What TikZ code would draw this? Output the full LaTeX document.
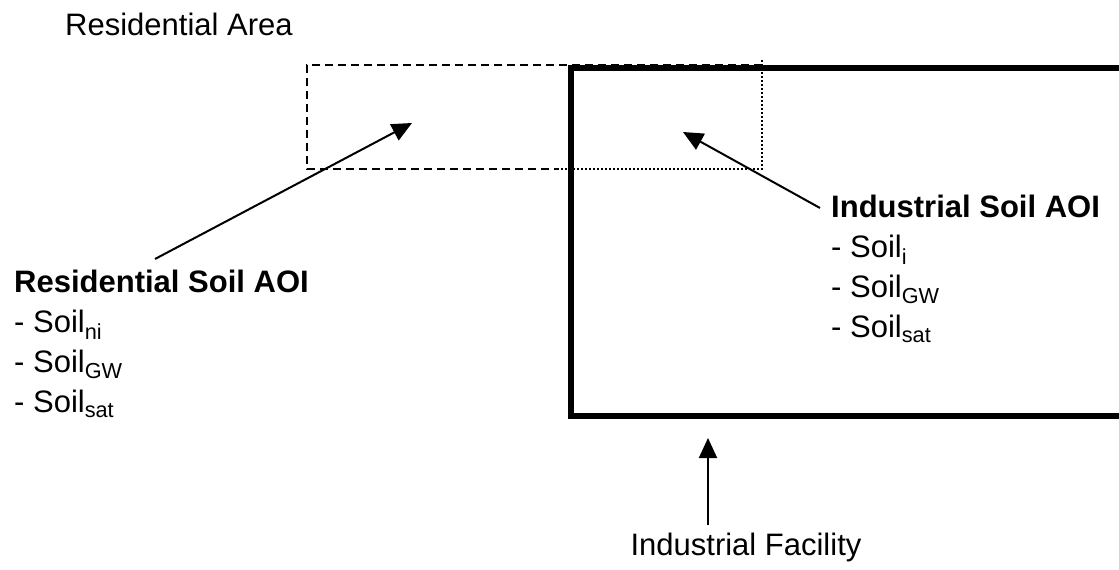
\documentclass[tikz,border=0pt]{standalone}
\usepackage{fontspec}
\setmainfont{Liberation Sans}
\usetikzlibrary{arrows.meta}
\newcommand\lowsub[1]{\textsubscript{#1}}
\begin{document}
\begin{tikzpicture}[x=1pt,y=-1pt,
  lbl/.style={inner sep=0pt, anchor=base west, font=\fontsize{31}{40}\selectfont},
  ttl/.style={lbl, font=\fontsize{31}{40}\selectfont\bfseries},
  pointer/.style={line width=2pt, -{Triangle[length=20pt,width=18pt]}},
  resline/.style={line width=2pt, dash pattern=on 8pt off 5pt},
  indline/.style={line width=2pt, dash pattern=on 2pt off 2pt},
  facility/.style={line width=5.5pt, line join=miter}
]
\useasboundingbox (0,0) rectangle (1119,570);

% area outlines
\coordinate (rtl) at (307,65);
\coordinate (rbl) at (307,169);
\coordinate (rbm) at (557,169);
\coordinate (itr) at (762,60);
\coordinate (ibr) at (762,169);
\coordinate (itrtop) at (762,65);
\draw[resline] (itrtop) -- (rtl) -- (rbl) -- (rbm);
\draw[indline] (itr) -- (ibr) -- (rbm);

% industrial facility boundary
\coordinate (ftr) at (1135,68);
\coordinate (ftl) at (571,68);
\coordinate (fbl) at (571,416);
\coordinate (fbr) at (1135,416);
\draw[facility] (ftr) -- (ftl) -- (fbl) -- (fbr);

% labels
\node[lbl] (resarea) at (65,35) {Residential Area};

\node[ttl] (restitle) at (14,292) {Residential Soil AOI};
\node[lbl] (resa) at (14,332) {- Soil\lowsub{ni}};
\node[lbl] (resb) at (14,372) {- Soil\lowsub{GW}};
\node[lbl] (resc) at (14,412) {- Soil\lowsub{sat}};

\node[ttl] (indtitle) at (831,217) {Industrial Soil AOI};
\node[lbl] (inda) at (831,257) {- Soil\lowsub{i}};
\node[lbl] (indb) at (831,297) {- Soil\lowsub{GW}};
\node[lbl] (indc) at (831,337) {- Soil\lowsub{sat}};

\node[lbl, anchor=base] (factext) at (746,555) {Industrial Facility};

% pointers
\coordinate (restail) at (155,259);
\coordinate (reshead) at (412,123);
\coordinate (indtail) at (820,208);
\coordinate (indhead) at (683,132);
\coordinate (factail) at (708,525);
\coordinate (fachead) at (708,438);
\draw[pointer] (restail) -- (reshead);
\draw[pointer] (indtail) -- (indhead);
\draw[pointer] (factail) -- (fachead);
\end{tikzpicture}
\end{document}
